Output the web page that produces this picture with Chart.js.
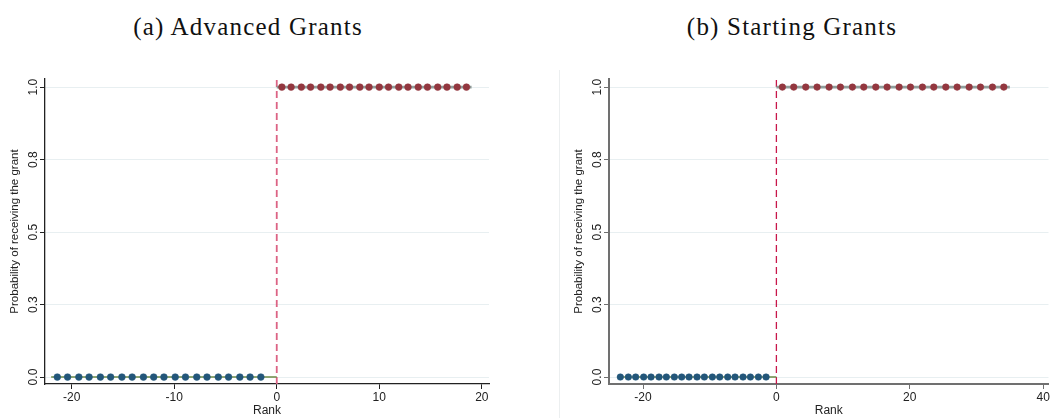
<!DOCTYPE html>
<html>
<head>
<meta charset="utf-8">
<script src="https://cdn.jsdelivr.net/npm/chart.js@4.4.1/dist/chart.umd.min.js"></script>
<style>
  html, body { margin: 0; padding: 0; background: #fff; }
  body { width: 1053px; height: 418px; position: relative; overflow: hidden; }
  .title {
    position: absolute; top: 13px; transform: translateX(-50%); white-space: nowrap;
    font-family: 'Liberation Serif', serif; font-size: 25px; letter-spacing: 1.2px; color: #111;
  }
  .panel { position: absolute; top: 0; height: 418px; }
  #divider { position: absolute; left: 559px; top: 70px; width: 1px; height: 348px; background: #eceff0; }
</style>
</head>
<body>
<div class="title" style="left:248px">(a) Advanced Grants</div>
<div class="title" style="left:792px">(b) Starting Grants</div>
<div id="divider"></div>
<div class="panel" style="left:0;width:500px"><canvas id="advanced" width="500" height="418"></canvas></div>
<div class="panel" style="left:564px;width:489px"><canvas id="starting" width="489" height="418"></canvas></div>
<script>
// shared y axis
const yTicks = [0, 0.25, 0.5, 0.75, 1]
const yTickLabels = ['0.0', '0.3', '0.5', '0.8', '1.0']
const yRange = [-0.024, 1.028]

// (a) Advanced Grants - binned ranks below / above the cutoff
const advBelowX = [-21.4, -20.4, -19.3, -18.3, -17.2, -16.2, -15.1, -14.1, -13.0, -12.0, -11.0, -9.9, -8.9, -7.8, -6.8, -5.7, -4.7, -3.6, -2.6, -1.55]
const advBelowY = [0, 0, 0, 0, 0, 0, 0, 0, 0, 0, 0, 0, 0, 0, 0, 0, 0, 0, 0, 0]
const advAboveX = [0.5, 1.4, 2.4, 3.3, 4.3, 5.2, 6.2, 7.1, 8.1, 9.0, 10.0, 10.9, 11.9, 12.8, 13.8, 14.7, 15.7, 16.6, 17.6, 18.5]
const advAboveY = [1, 1, 1, 1, 1, 1, 1, 1, 1, 1, 1, 1, 1, 1, 1, 1, 1, 1, 1, 1]
const advFitBelowX = [-22.0, 0]
const advFitBelowY = [0, 0]
const advFitAboveX = [0, 19.0]
const advFitAboveY = [1, 1]
const advXTicks = [-20, -10, 0, 10, 20]
const advXTickLabels = ['-20', '-10', '0', '10', '20']
const advXRange = [-22.6, 20.7]

// (b) Starting Grants
const staBelowX = [-23.4, -22.2, -21.1, -19.9, -18.8, -17.6, -16.5, -15.3, -14.2, -13.1, -11.9, -10.8, -9.6, -8.5, -7.3, -6.2, -5.0, -3.9, -2.7, -1.55]
const staBelowY = [0, 0, 0, 0, 0, 0, 0, 0, 0, 0, 0, 0, 0, 0, 0, 0, 0, 0, 0, 0]
const staAboveX = [0.9, 2.6, 4.4, 6.1, 7.9, 9.6, 11.4, 13.1, 14.9, 16.6, 18.4, 20.1, 21.9, 23.6, 25.4, 27.1, 28.9, 30.6, 32.4, 34.1]
const staAboveY = [1, 1, 1, 1, 1, 1, 1, 1, 1, 1, 1, 1, 1, 1, 1, 1, 1, 1, 1, 1]
const staFitBelowX = [-23.9, 0]
const staFitBelowY = [0, 0]
const staFitAboveX = [0, 35.0]
const staFitAboveY = [1, 1]
const staXTicks = [-20, 0, 20, 40]
const staXTickLabels = ['-20', '0', '20', '40']
const staXRange = [-25.1, 40.8]

const cutoffX = [0, 0]

const zip = (xs, ys) => xs.map((x, i) => ({ x: x, y: ys[i] }))
const font = { family: "'Liberation Sans', Arial, sans-serif" }

function drawPanel(id, d, look) {
  new Chart(document.getElementById(id), {
    type: 'scatter',
    data: {
      datasets: [{
        data: zip(d.belowX, d.belowY),
        pointRadius: look.radius, pointBackgroundColor: '#23567a', pointBorderColor: '#23567a', pointBorderWidth: 0.5,
        order: 1
      }, {
        data: zip(d.aboveX, d.aboveY),
        pointRadius: look.radius, pointBackgroundColor: '#93373f', pointBorderColor: '#93373f', pointBorderWidth: 0.5,
        order: 1
      }, {
        data: zip(d.fitBelowX, d.fitBelowY),
        showLine: true, pointRadius: 0, borderColor: '#6a8a45', borderWidth: 1.6,
        order: 2
      }, {
        data: zip(d.fitAboveX, d.fitAboveY),
        showLine: true, pointRadius: 0, borderColor: '#8f9e9b', borderWidth: 2.6,
        order: 2
      }, {
        data: zip(cutoffX, yRange),
        showLine: true, pointRadius: 0, borderColor: look.cutoffColor, borderWidth: look.cutoffWidth,
        borderDash: [7, 4],
        order: 3
      }]
    },
    options: {
      responsive: false,
      animation: false,
      layout: { padding: { top: 79, right: look.padRight, left: 0, bottom: 0 } },
      plugins: { legend: { display: false }, tooltip: { enabled: false } },
      scales: {
        x: {
          type: 'linear', min: d.xRange[0], max: d.xRange[1],
          afterBuildTicks: s => { s.ticks = d.xTicks.map(v => ({ value: v })) },
          afterFit: s => { s.height = 34 },
          border: { color: look.axisColor, width: look.axisWidth },
          grid: { drawOnChartArea: false, drawTicks: true, tickLength: 5, tickColor: look.axisColor, tickWidth: 1 },
          ticks: { font: { ...font, size: 12 }, color: '#222', padding: 1, maxRotation: 0, autoSkip: false,
                   callback: (v, i) => d.xTickLabels[i] },
          title: { display: true, text: 'Rank', font: { ...font, size: 12 }, color: '#222', padding: { top: 0, bottom: 0 } }
        },
        y: {
          min: yRange[0], max: yRange[1],
          afterBuildTicks: s => { s.ticks = yTicks.map(v => ({ value: v })) },
          afterFit: s => { s.width = 45 },
          border: { color: look.axisColor, width: look.axisWidth },
          grid: { color: '#e8eff1', lineWidth: 1, drawTicks: true, tickLength: 5, tickColor: look.axisColor, tickWidth: 1 },
          ticks: { font: { ...font, size: 12 }, color: '#222', minRotation: 90, maxRotation: 90, crossAlign: 'center',
                   padding: -2, autoSkip: false, callback: (v, i) => yTickLabels[i] },
          title: { display: true, text: 'Probability of receiving the grant', font: { ...font, size: 11.5 }, color: '#222',
                   padding: { top: 8, bottom: 0 } }
        }
      }
    }
  })
}

drawPanel('advanced', {
  belowX: advBelowX, belowY: advBelowY, aboveX: advAboveX, aboveY: advAboveY,
  fitBelowX: advFitBelowX, fitBelowY: advFitBelowY, fitAboveX: advFitAboveX, fitAboveY: advFitAboveY,
  xTicks: advXTicks, xTickLabels: advXTickLabels, xRange: advXRange
}, { radius: 3.4, cutoffColor: '#dc6384', cutoffWidth: 1.8, axisColor: '#222', axisWidth: 1.3, padRight: 11 })

drawPanel('starting', {
  belowX: staBelowX, belowY: staBelowY, aboveX: staAboveX, aboveY: staAboveY,
  fitBelowX: staFitBelowX, fitBelowY: staFitBelowY, fitAboveX: staFitAboveX, fitAboveY: staFitAboveY,
  xTicks: staXTicks, xTickLabels: staXTickLabels, xRange: staXRange
}, { radius: 3.3, cutoffColor: '#c8174a', cutoffWidth: 1.3, axisColor: '#707070', axisWidth: 2, padRight: 2 })
</script>
</body>
</html>
